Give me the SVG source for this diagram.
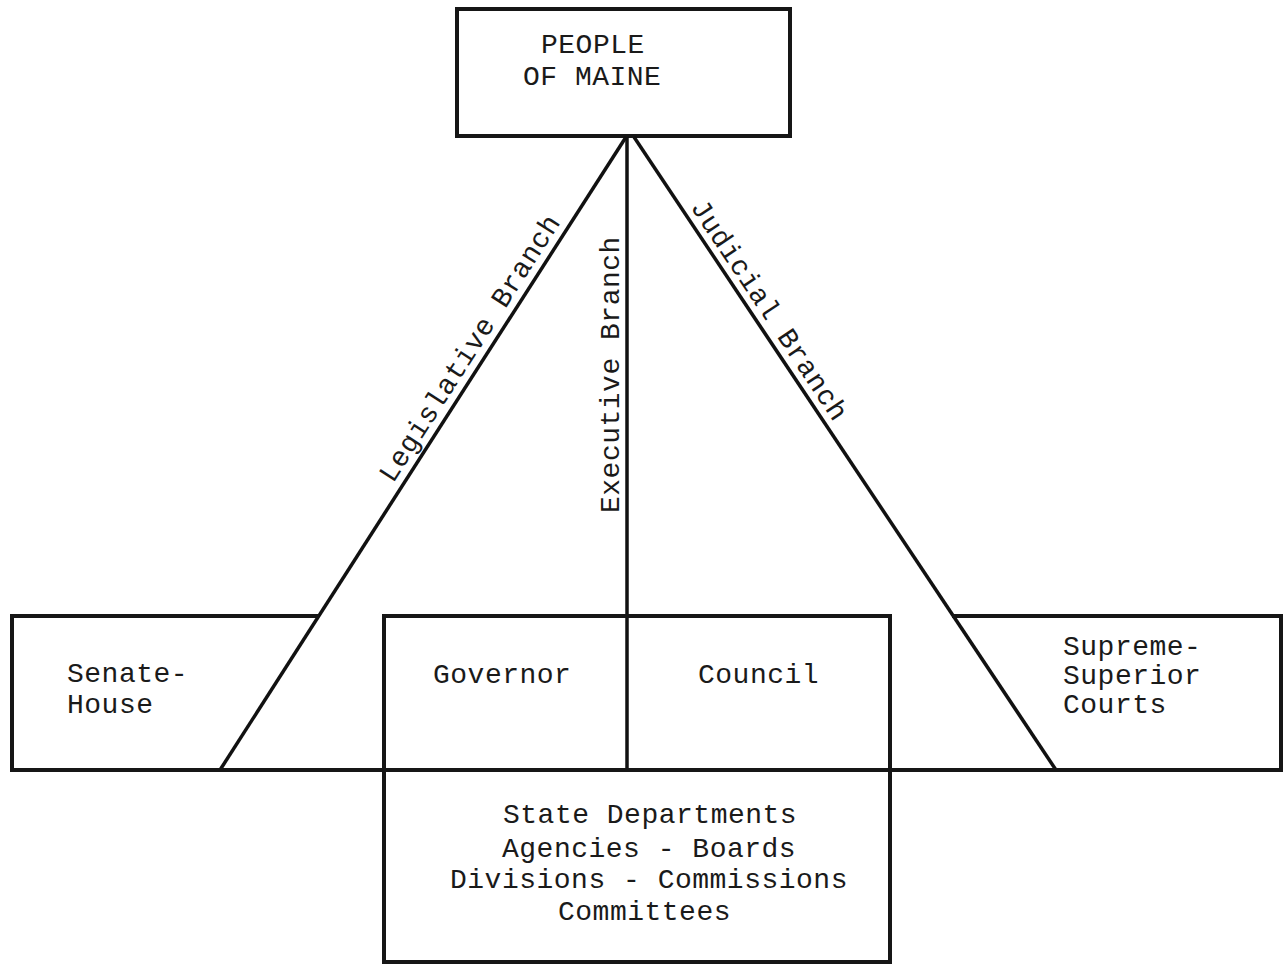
<svg xmlns="http://www.w3.org/2000/svg" width="1286" height="966" viewBox="0 0 1286 966">
<style>
.box{fill:none;stroke:#161616;stroke-width:4;stroke-linejoin:miter}
.ln{fill:none;stroke:#111;stroke-width:3.5}
text{font-family:"Liberation Mono","Courier New",monospace;font-size:28px;letter-spacing:0.5px;fill:#1a1a1a}
</style>
<rect width="1286" height="966" fill="#fff"/>
<g id="people">
<rect class="box" x="457" y="9" width="333" height="127"/>
<text x="541" y="53">PEOPLE</text>
<text x="523" y="85">OF MAINE</text>
</g>
<g id="connectors">
<line class="ln" x1="626" y1="137" x2="220" y2="770"/>
<line class="ln" x1="627" y1="137" x2="627" y2="770"/>
<line class="ln" x1="634" y1="137" x2="1056" y2="770"/>
<text transform="translate(393,484) rotate(-57.3)">Legislative Branch</text>
<text transform="translate(619,513) rotate(-90)">Executive Branch</text>
<text transform="translate(690,207) rotate(56.3)">Judicial Branch</text>
</g>
<g id="senate-house">
<path class="box" d="M319,616 H12 V770 H384"/>
<text x="67" y="682">Senate-</text>
<text x="67" y="713">House</text>
</g>
<g id="executive">
<rect class="box" x="384" y="616" width="506" height="346"/>
<line class="box" x1="384" y1="770" x2="890" y2="770"/>
<text x="433" y="683">Governor</text>
<text x="698" y="683">Council</text>
</g>
<g id="departments">
<text x="503" y="823">State Departments</text>
<text x="502" y="857">Agencies - Boards</text>
<text x="450" y="888">Divisions - Commissions</text>
<text x="558" y="920">Committees</text>
</g>
<g id="courts">
<path class="box" d="M952,616 H1281 V770 H890"/>
<text x="1063" y="655">Supreme-</text>
<text x="1063" y="684">Superior</text>
<text x="1063" y="713">Courts</text>
</g>
</svg>
